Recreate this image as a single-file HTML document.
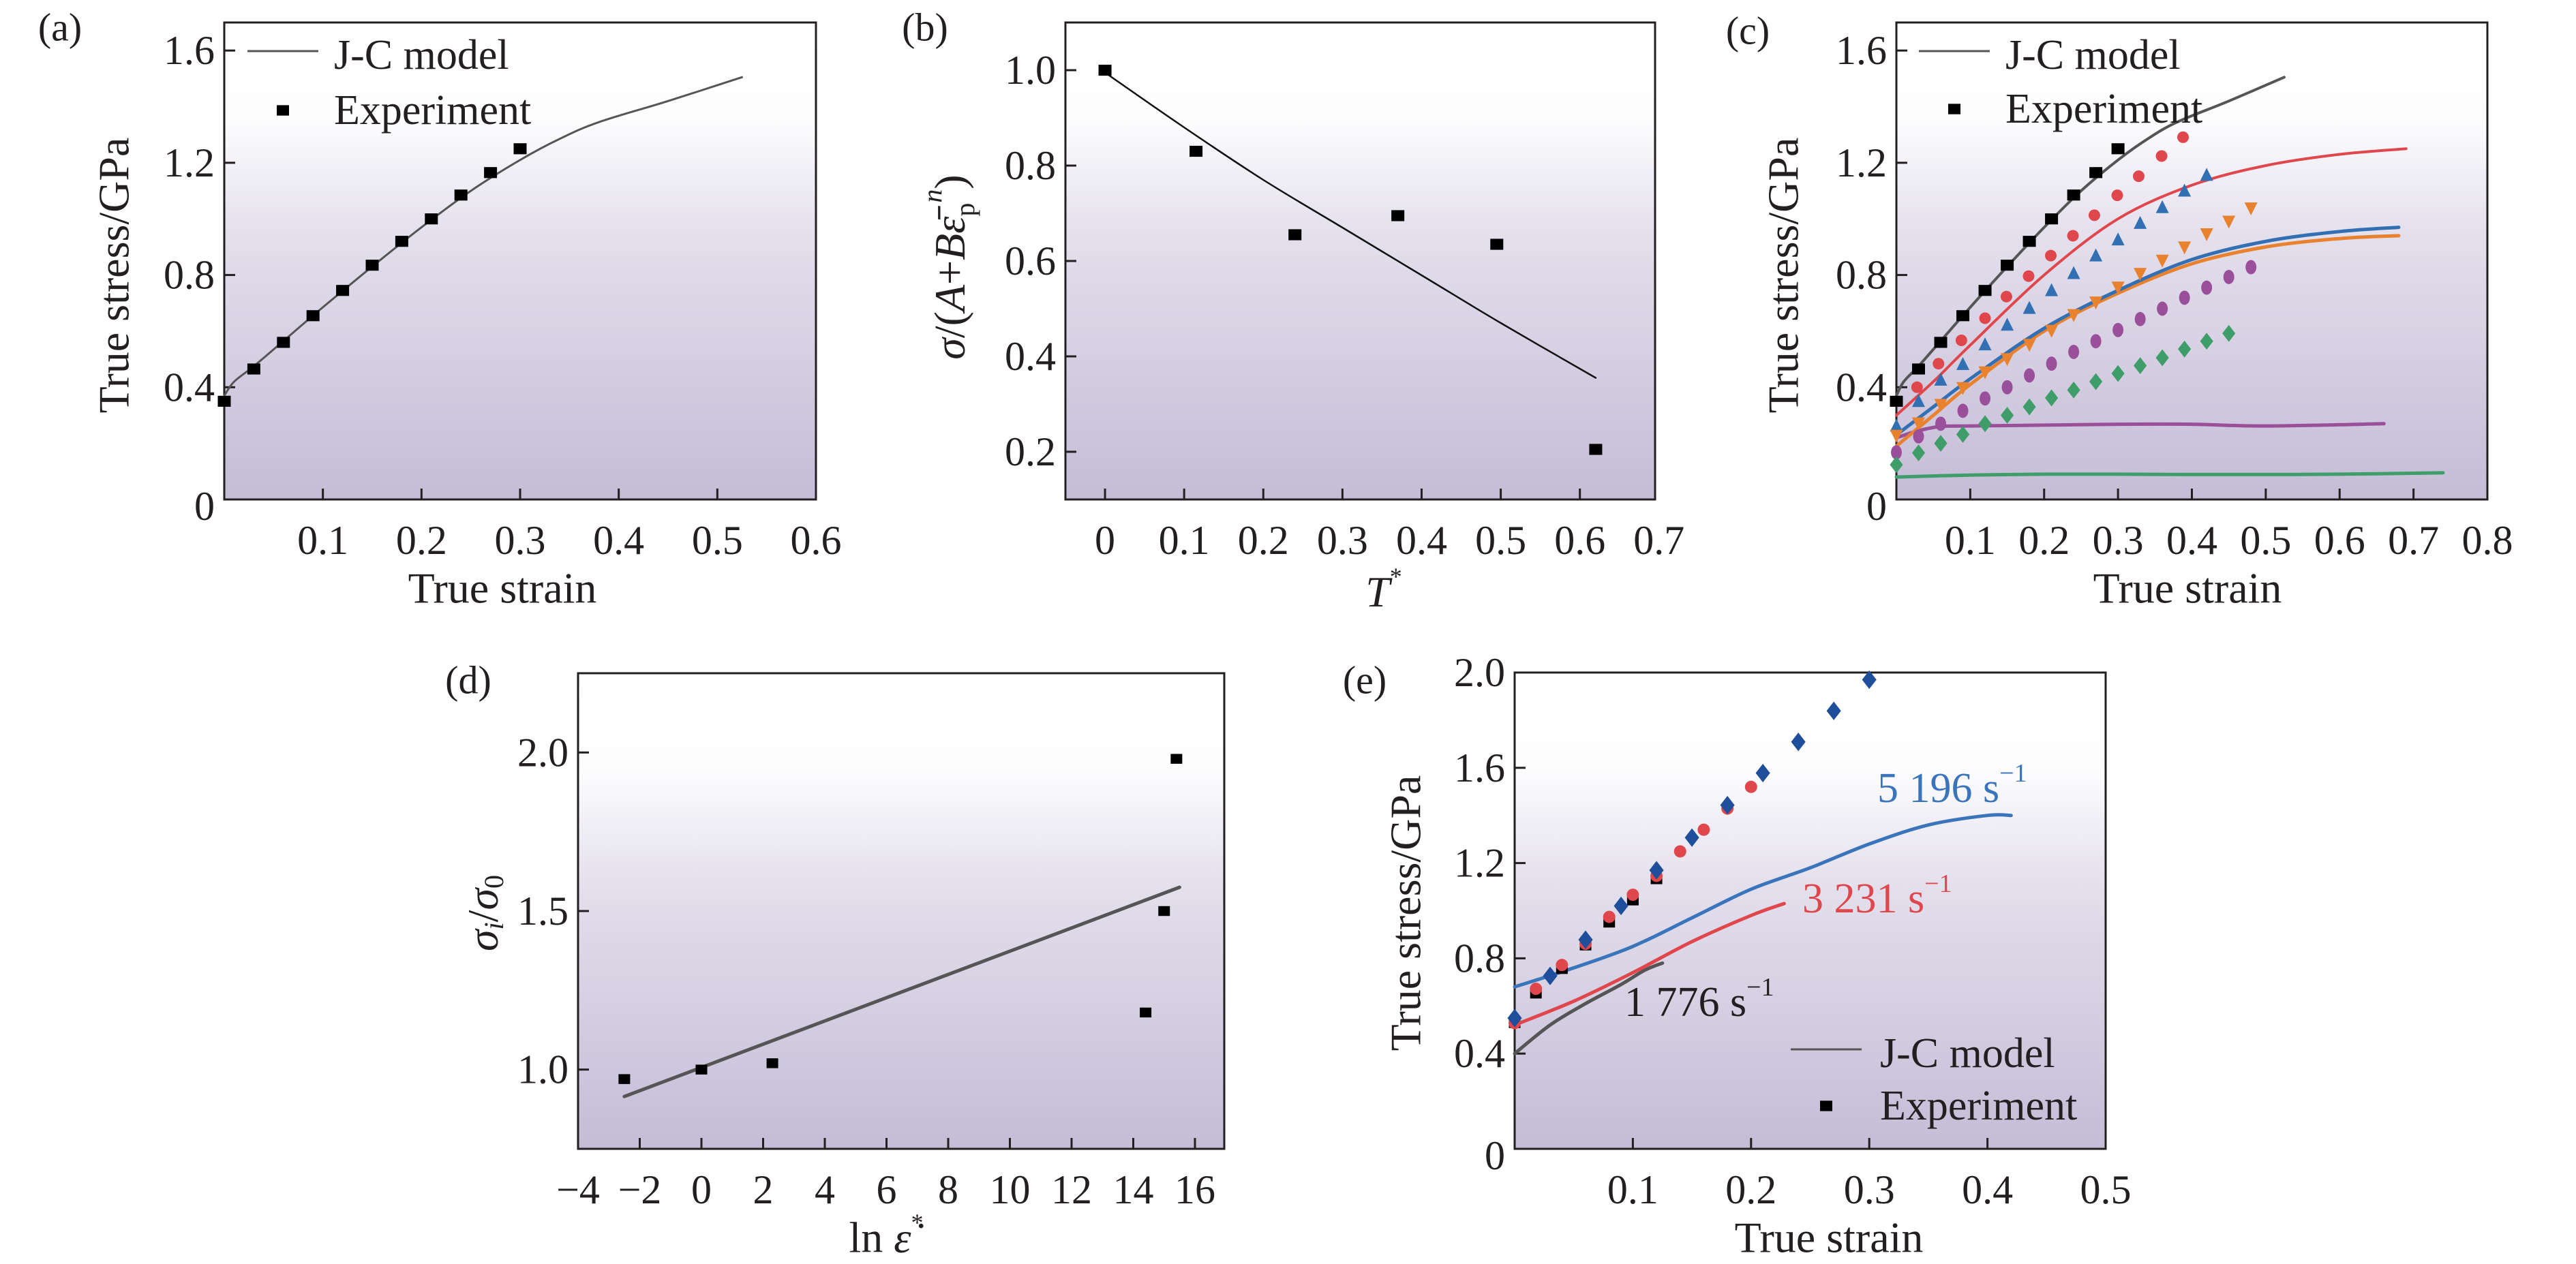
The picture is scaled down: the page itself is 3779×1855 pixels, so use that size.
<!DOCTYPE html>
<html><head><meta charset="utf-8">
<style>
html,body{margin:0;padding:0;background:#fff;}
svg{display:block;font-family:"Liberation Serif",serif;}
</style></head>
<body>
<svg id="fig" width="3779" height="1855" viewBox="0 0 3779 1855" xmlns="http://www.w3.org/2000/svg">
<defs>
<linearGradient id="bg" x1="0" y1="0" x2="0" y2="1">
<stop offset="0" stop-color="#ffffff"/>
<stop offset="0.2" stop-color="#fdfdfe"/>
<stop offset="0.45" stop-color="#e3dfec"/>
<stop offset="1" stop-color="#c5bcd6"/>
</linearGradient>
</defs>
</svg>
<script>
// ---- panel (a) data ----
const aExpX = [0,0.03,0.06,0.09,0.12,0.15,0.18,0.21,0.24,0.27,0.30];
const aExpY = [0.35,0.465,0.56,0.655,0.745,0.835,0.92,1.0,1.085,1.165,1.25];
const aFitX = [0,0.01,0.03,0.06,0.1,0.15,0.2,0.25,0.3,0.34,0.38,0.45,0.525];
const aFitY = [0.37,0.42,0.475,0.565,0.685,0.83,0.97,1.1,1.21,1.285,1.345,1.42,1.505];
// ---- panel (b) data ----
const bExpX = [0,0.115,0.24,0.37,0.495,0.62];
const bExpY = [1.0,0.83,0.655,0.695,0.635,0.205];
const bFitX = [0,0.1,0.2,0.3,0.4,0.5,0.62];
const bFitY = [0.995,0.88,0.77,0.67,0.57,0.47,0.355];
// ---- panel (c) data ----
const cBlackX = [0,0.03,0.06,0.09,0.12,0.15,0.18,0.21,0.24,0.27,0.30];
const cBlackY = [0.35,0.465,0.56,0.655,0.745,0.835,0.92,1.0,1.085,1.165,1.25];
const cRedX = [0.028,0.057,0.088,0.12,0.149,0.179,0.209,0.239,0.268,0.299,0.328,0.359,0.388];
const cRedY = [0.40,0.484,0.567,0.646,0.723,0.796,0.869,0.94,1.013,1.084,1.152,1.224,1.291];
const cBlueX = [0,0.03,0.06,0.09,0.12,0.15,0.18,0.21,0.24,0.27,0.30,0.33,0.36,0.39,0.42];
const cBlueY = [0.26,0.348,0.424,0.48,0.55,0.62,0.68,0.743,0.804,0.867,0.924,0.983,1.039,1.098,1.154];
const cOrgX = [0,0.03,0.06,0.09,0.12,0.15,0.18,0.21,0.24,0.27,0.30,0.33,0.36,0.39,0.42,0.45,0.48];
const cOrgY = [0.23,0.274,0.34,0.40,0.456,0.503,0.554,0.604,0.66,0.705,0.758,0.807,0.854,0.901,0.948,0.993,1.04];
const cPurX = [0,0.03,0.06,0.09,0.12,0.15,0.18,0.21,0.24,0.27,0.30,0.33,0.36,0.39,0.42,0.45,0.48];
const cPurY = [0.168,0.225,0.27,0.316,0.36,0.40,0.442,0.484,0.526,0.564,0.604,0.643,0.68,0.719,0.755,0.793,0.828];
const cGrnX = [0,0.03,0.06,0.09,0.12,0.15,0.18,0.21,0.24,0.27,0.30,0.33,0.36,0.39,0.42,0.45];
const cGrnY = [0.124,0.166,0.20,0.232,0.27,0.30,0.33,0.362,0.39,0.42,0.449,0.477,0.505,0.536,0.564,0.592];
const cFitBlackX = [0,0.01,0.03,0.06,0.1,0.15,0.2,0.25,0.3,0.34,0.38,0.45,0.525];
const cFitBlackY = [0.37,0.42,0.475,0.565,0.685,0.83,0.97,1.1,1.21,1.285,1.345,1.42,1.505];
const cFitRedX = [0,0.05,0.1,0.2,0.3,0.4,0.5,0.6,0.69];
const cFitRedY = [0.30,0.42,0.55,0.80,1.0,1.12,1.19,1.23,1.25];
const cFitBlueX = [0,0.05,0.1,0.2,0.3,0.4,0.5,0.6,0.68];
const cFitBlueY = [0.23,0.33,0.43,0.61,0.745,0.855,0.92,0.955,0.97];
const cFitOrgX = [0,0.05,0.1,0.2,0.3,0.4,0.5,0.6,0.68];
const cFitOrgY = [0.19,0.30,0.41,0.60,0.735,0.84,0.90,0.93,0.94];
const cFitPurX = [0,0.03,0.06,0.1,0.2,0.3,0.4,0.5,0.66];
const cFitPurY = [0.22,0.245,0.26,0.262,0.265,0.268,0.268,0.262,0.27];
const cFitGrnX = [0,0.1,0.2,0.3,0.4,0.5,0.6,0.74];
const cFitGrnY = [0.08,0.087,0.09,0.09,0.089,0.089,0.09,0.095];
// ---- panel (d) data ----
const dExpX = [-2.5,0,2.3,14.4,15,15.4];
const dExpY = [0.97,1.0,1.02,1.18,1.5,1.98];
const dFitX = [-2.5,15.5];
const dFitY = [0.915,1.575];
// ---- panel (e) data ----
const eBlueX = [0,0.03,0.06,0.09,0.12,0.15,0.18,0.21,0.24,0.27,0.30];
const eBlueY = [0.549,0.726,0.878,1.02,1.17,1.307,1.443,1.578,1.709,1.839,1.97];
const eRedX = [0,0.018,0.04,0.06,0.08,0.1,0.12,0.14,0.16,0.18,0.2];
const eRedY = [0.528,0.672,0.772,0.861,0.974,1.067,1.146,1.249,1.34,1.429,1.52];
const eBlackX = [0,0.018,0.04,0.06,0.08,0.1,0.12];
const eBlackY = [0.528,0.652,0.755,0.854,0.95,1.043,1.132];
const eFitBlueX = [0,0.05,0.1,0.15,0.2,0.25,0.3,0.35,0.4,0.42];
const eFitBlueY = [0.68,0.76,0.85,0.97,1.09,1.18,1.28,1.36,1.40,1.40];
const eFitRedX = [0,0.05,0.1,0.15,0.2,0.228];
const eFitRedY = [0.52,0.62,0.74,0.87,0.98,1.03];
const eFitGrayX = [0,0.03,0.06,0.09,0.11,0.125];
const eFitGrayY = [0.40,0.52,0.61,0.69,0.75,0.78];

const NS = "http://www.w3.org/2000/svg";
const fig = document.getElementById('fig');
function mk(parent, tag, attrs){
  const e = document.createElementNS(NS, tag);
  for (const k in attrs) e.setAttribute(k, attrs[k]);
  parent.appendChild(e);
  return e;
}
function txt(parent, x, y, s, size, anchor, extra){
  const t = mk(parent, 'text', {x:x, y:y, 'font-size':size, 'text-anchor':anchor||'middle', 'dominant-baseline':'central', fill:'#231f20'});
  if (extra) for (const k in extra) t.setAttribute(k, extra[k]);
  t.textContent = s;
  return t;
}

function panel(id, cfg){
  const g = mk(fig, 'g', {});
  
  
  const sx = v => cfg.l + (v - cfg.x0) / (cfg.x1 - cfg.x0) * (cfg.r - cfg.l);
  const sy = v => cfg.b - (v - cfg.y0) / (cfg.y1 - cfg.y0) * (cfg.b - cfg.t);
  const bg = mk(g, 'rect', {x:cfg.l, y:cfg.t, width:cfg.r-cfg.l, height:cfg.b-cfg.t, fill:'url(#bg)', stroke:'#231f20', 'stroke-width':3});
  
  
  cfg.xt.forEach((v, i) => {
    const x = sx(v);
    if (x > cfg.l + 3 && x < cfg.r - 3) {
      const tk = mk(g, 'line', {x1:x, x2:x, y1:cfg.b, y2:cfg.b-16, stroke:'#231f20', 'stroke-width':3});
      
      
    }
    const lb = txt(g, x, cfg.b + 60, cfg.xl[i], 60);
    
    
  });
  cfg.yt.forEach((v, i) => {
    const y = sy(v);
    if (y < cfg.b - 3 && y > cfg.t + 3) {
      const tk = mk(g, 'line', {x1:cfg.l, x2:cfg.l+16, y1:y, y2:y, stroke:'#231f20', 'stroke-width':3});
      
      
    }
    const lb = txt(g, cfg.l - 14, y + (v === cfg.y0 ? 10 : 0), cfg.yl[i], 60, 'end');
    
    
  });
  return {g, sx, sy};
}
function line(p, xs, ys, color, w, name){
  const P = xs.map((x, i) => [p.sx(x), p.sy(ys[i])]);
  let d = 'M' + P[0][0].toFixed(1) + ',' + P[0][1].toFixed(1);
  for (let i = 0; i < P.length - 1; i++) {
    const p0 = P[Math.max(0, i-1)], p1 = P[i], p2 = P[i+1], p3 = P[Math.min(P.length-1, i+2)];
    const c1 = [p1[0] + (p2[0]-p0[0])/6, p1[1] + (p2[1]-p0[1])/6];
    const c2 = [p2[0] - (p3[0]-p1[0])/6, p2[1] - (p3[1]-p1[1])/6];
    d += 'C' + c1[0].toFixed(1) + ',' + c1[1].toFixed(1) + ' ' + c2[0].toFixed(1) + ',' + c2[1].toFixed(1) + ' ' + p2[0].toFixed(1) + ',' + p2[1].toFixed(1);
  }
  const e = mk(p.g, 'path', {d:d, fill:'none', stroke:color, 'stroke-width':w, 'stroke-linejoin':'round', 'stroke-linecap':'round'});
  
  
}
function marker(g, shape, x, y, s, color){
  let e;
  if (shape === 'sq') e = mk(g, 'rect', {x:x-s/2, y:y-s/2*0.85, width:s, height:s*0.85, fill:color});
  else if (shape === 'ci') e = mk(g, 'circle', {cx:x, cy:y, r:s/2, fill:color});
  else if (shape === 'tu') e = mk(g, 'polygon', {points:`${x},${y-s*0.6} ${x-s/2},${y+s*0.4} ${x+s/2},${y+s*0.4}`, fill:color});
  else if (shape === 'td') e = mk(g, 'polygon', {points:`${x},${y+s*0.6} ${x-s/2},${y-s*0.4} ${x+s/2},${y-s*0.4}`, fill:color});
  else if (shape === 'hx') e = mk(g, 'ellipse', {cx:x, cy:y, rx:s*0.42, ry:s*0.55, fill:color});
  else e = mk(g, 'polygon', {points:`${x},${y-s*0.62} ${x+s*0.48},${y} ${x},${y+s*0.62} ${x-s*0.48},${y}`, fill:color});
  return e;
}
function pts(p, xs, ys, shape, s, color, name){
  xs.forEach((x, i) => {
    const e = marker(p.g, shape, p.sx(x), p.sy(ys[i]), s, color);
    
    
  });
}
function legend(g, x, y1, y2, tx){
  const l = mk(g, 'line', {x1:x, x2:x+104, y1:y1, y2:y1, stroke:'#555', 'stroke-width':3});
  
  
  const t1 = txt(g, tx, y1+6, 'J-C model', 62, 'start');
  
  
  const m = marker(g, 'sq', x+52, y2, 18, '#000');
  
  
  const t2 = txt(g, tx, y2, 'Experiment', 62, 'start');
  
  
}
function label(x, y, s, name){
  const t = txt(fig, x, y, s, 58);
  
  
  return t;
}
function ytitle(x, y, s, name){
  const t = txt(fig, x, y, s, 64, 'middle', {transform:`rotate(-90 ${x} ${y})`});
  
  
  return t;
}

// ---------- (a) ----------
const pa = panel('a', {l:329, r:1197, t:33, b:733, x0:0, x1:0.6, y0:0, y1:1.7,
  xt:[0.1,0.2,0.3,0.4,0.5,0.6], xl:['0.1','0.2','0.3','0.4','0.5','0.6'],
  yt:[0,0.4,0.8,1.2,1.6], yl:['0','0.4','0.8','1.2','1.6']});
line(pa, aFitX, aFitY, '#555', 3, 'jc-model-line');
pts(pa, aExpX, aExpY, 'sq', 19, '#000', 'experiment-point');
legend(pa.g, 363, 75, 162, 490);
label(88, 40, '(a)', 'panel-label-a');
ytitle(167, 404, 'True stress/GPa', 'y-axis-title-a');
label(737, 863, 'True strain', 'x-axis-title-a').setAttribute('font-size', 64);

// ---------- (b) ----------
const pb = panel('b', {l:1563, r:2428, t:33, b:733, x0:-0.05, x1:0.695, y0:0.1, y1:1.1,
  xt:[0,0.1,0.2,0.3,0.4,0.5,0.6,0.7], xl:['0','0.1','0.2','0.3','0.4','0.5','0.6','0.7'],
  yt:[0.2,0.4,0.6,0.8,1.0], yl:['0.2','0.4','0.6','0.8','1.0']});
line(pb, bFitX, bFitY, '#111', 2.5, 'jc-model-line');
pts(pb, bExpX, bExpY, 'sq', 19, '#000', 'experiment-point');
label(1357, 40, '(b)', 'panel-label-b');
(function(){
  const x = 1393, y = 392;
  const t = mk(fig, 'text', {x:x, y:y, 'font-size':64, 'text-anchor':'middle', 'dominant-baseline':'central', fill:'#231f20', transform:`rotate(-90 ${x} ${y})`});
  
  
  t.innerHTML = '<tspan font-style="italic">σ</tspan>/(<tspan font-style="italic">A</tspan>+<tspan font-style="italic">B</tspan><tspan font-style="italic">ε̄</tspan><tspan font-size="40" dy="22">p</tspan><tspan font-size="40" font-style="italic" dy="-48">n</tspan><tspan dy="26">)</tspan>';
  const tx = mk(fig, 'text', {x:2030, y:868, 'font-size':64, 'text-anchor':'middle', 'dominant-baseline':'central', fill:'#231f20'});
  
  
  tx.innerHTML = '<tspan font-style="italic">T</tspan><tspan font-size="36" dy="-22">*</tspan>';
})();

// ---------- (c) ----------
const pc = panel('c', {l:2782, r:3649, t:33, b:733, x0:0, x1:0.8, y0:0, y1:1.7,
  xt:[0.1,0.2,0.3,0.4,0.5,0.6,0.7,0.8], xl:['0.1','0.2','0.3','0.4','0.5','0.6','0.7','0.8'],
  yt:[0,0.4,0.8,1.2,1.6], yl:['0','0.4','0.8','1.2','1.6']});
line(pc, cFitGrnX, cFitGrnY, '#3f9d6a', 5, 'jc-line-green');
line(pc, cFitPurX, cFitPurY, '#9a4f9a', 5, 'jc-line-purple');
line(pc, cFitOrgX, cFitOrgY, '#e8822e', 5, 'jc-line-orange');
line(pc, cFitBlueX, cFitBlueY, '#336fb3', 5, 'jc-line-blue');
line(pc, cFitRedX, cFitRedY, '#e0474c', 4, 'jc-line-red');
line(pc, cFitBlackX, cFitBlackY, '#555', 4, 'jc-line-black');
pts(pc, cBlackX, cBlackY, 'sq', 19, '#000', 'experiment-square');
pts(pc, cRedX, cRedY, 'ci', 17, '#e0474c', 'experiment-circle');
pts(pc, cBlueX, cBlueY, 'tu', 19, '#336fb3', 'experiment-triangle-up');
pts(pc, cOrgX, cOrgY, 'td', 19, '#e8822e', 'experiment-triangle-down');
pts(pc, cPurX, cPurY, 'hx', 19, '#9a4f9a', 'experiment-hexagon');
pts(pc, cGrnX, cGrnY, 'di', 20, '#3f9d6a', 'experiment-diamond');
legend(pc.g, 2815, 75, 160, 2942);
label(2564, 45, '(c)', 'panel-label-c');
ytitle(2616, 404, 'True stress/GPa', 'y-axis-title-c');
label(3209, 863, 'True strain', 'x-axis-title-c').setAttribute('font-size', 64);

// ---------- (d) ----------
const pd = panel('d', {l:848, r:1796, t:988, b:1686, x0:-4, x1:16.95, y0:0.75, y1:2.25,
  xt:[-4,-2,0,2,4,6,8,10,12,14,16], xl:['−4','−2','0','2','4','6','8','10','12','14','16'],
  yt:[1.0,1.5,2.0], yl:['1.0','1.5','2.0']});
line(pd, dFitX, dFitY, '#555', 5, 'jc-model-line');
pts(pd, dExpX, dExpY, 'sq', 17, '#000', 'experiment-point');
label(687, 998, '(d)', 'panel-label-d');
(function(){
  const x = 708, y = 1340;
  const t = mk(fig, 'text', {x:x, y:y, 'font-size':64, 'text-anchor':'middle', 'dominant-baseline':'central', fill:'#231f20', transform:`rotate(-90 ${x} ${y})`});
  
  
  t.innerHTML = '<tspan font-style="italic">σ</tspan><tspan font-style="italic" font-size="40" dy="16">i</tspan><tspan dy="-16">/</tspan><tspan font-style="italic">σ</tspan><tspan font-size="40" dy="16">0</tspan>';
  const tx = mk(fig, 'text', {x:1300, y:1816, 'font-size':64, 'text-anchor':'middle', 'dominant-baseline':'central', fill:'#231f20'});
  
  
  tx.innerHTML = 'ln <tspan font-style="italic">ε̇</tspan><tspan font-size="36" dy="-22">*</tspan>';
})();

// ---------- (e) ----------
const pe = panel('e', {l:2222, r:3089, t:987, b:1686, x0:0, x1:0.5, y0:0, y1:2.0,
  xt:[0.1,0.2,0.3,0.4,0.5], xl:['0.1','0.2','0.3','0.4','0.5'],
  yt:[0,0.4,0.8,1.2,1.6,2.0], yl:['0','0.4','0.8','1.2','1.6','2.0']});
line(pe, eFitGrayX, eFitGrayY, '#555', 5, 'jc-line-1776');
line(pe, eFitRedX, eFitRedY, '#e0474c', 5, 'jc-line-3231');
line(pe, eFitBlueX, eFitBlueY, '#3a75bb', 5, 'jc-line-5196');
pts(pe, eBlackX, eBlackY, 'sq', 17, '#000', 'experiment-square');
pts(pe, eRedX, eRedY, 'ci', 18, '#e0474c', 'experiment-circle');
pts(pe, eBlueX, eBlueY, 'di', 22, '#1f4e9a', 'experiment-diamond');
legend(pe.g, 2627, 1540, 1623, 2758);
label(2002, 998, '(e)', 'panel-label-e');
ytitle(2062, 1340, 'True stress/GPa', 'y-axis-title-e');
label(2683, 1816, 'True strain', 'x-axis-title-e').setAttribute('font-size', 64);
(function(){
  const rates = [['5 196 s', '#3a75bb', 2754, 1157, 'rate-label-5196'], ['3 231 s', '#e0474c', 2644, 1319, 'rate-label-3231'], ['1 776 s', '#231f20', 2383, 1471, 'rate-label-1776']];
  rates.forEach(r => {
    const t = mk(fig, 'text', {x:r[2], y:r[3], 'font-size':62, 'text-anchor':'start', 'dominant-baseline':'central', fill:r[1]});
    
    
    t.innerHTML = r[0] + '<tspan font-size="38" dy="-22">−1</tspan>';
  });
})();
</script>
</body></html>
